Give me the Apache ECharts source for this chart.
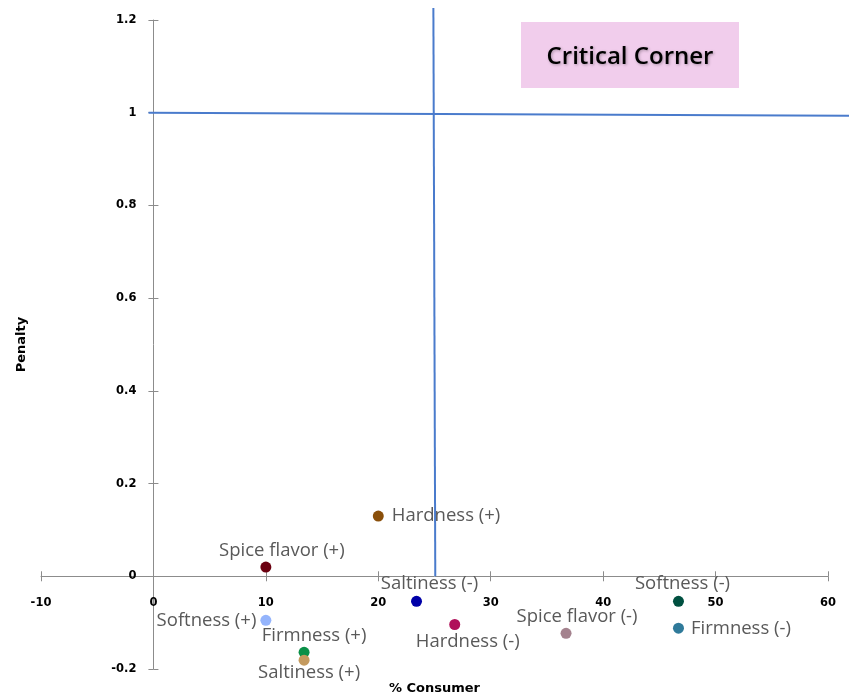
<!DOCTYPE html>
<html>
<head>
<meta charset="utf-8">
<script src="https://cdn.jsdelivr.net/npm/echarts@6/dist/echarts.min.js"></script>
<style>html,body{margin:0;padding:0;background:#fff}#c{width:849px;height:700px}</style>
</head>
<body>
<div id="c"></div>
<script>
var names = ['Spice flavor (+)', 'Hardness (+)', 'Saltiness (-)', 'Softness (+)', 'Firmness (+)', 'Saltiness (+)', 'Hardness (-)', 'Spice flavor (-)', 'Softness (-)', 'Firmness (-)'];
var consumerPct = [10, 20, 23.4, 10, 13.4, 13.4, 26.8, 36.7, 46.7, 46.7];
var penalty = [0.02, 0.13, -0.054, -0.095, -0.164, -0.181, -0.104, -0.123, -0.054, -0.112];
var pointColors = ['#6b0010', '#8a4f0a', '#0000a8', '#94b4fc', '#0a9048', '#c49a5e', '#b0105a', '#a4828e', '#005040', '#2f7a9a'];
var labelPlacement = ['top', 'right', 'top', 'left', 'top', 'bottom', 'bottom', 'top', 'top', 'right'];
var labelShift = [[16, 3], [4, 0], [13, 1], [0, 0], [10, 2], [5, -6], [13, -2], [11, 2], [4, 1], [3, 1]];
var xTicks = {min: -10, max: 60, interval: 10};
var yTicks = {min: -0.2, max: 1.2, interval: 0.2};
// reference lines: [x1, y1, x2, y2]
var refLines = [[24.9, 1.226, 25.07, 0], [-0.44, 1.0, 61.9, 0.9935]];

var GL = 41, GR = 21, GT = 20, GB = 31, W = 849, H = 700;
var gw = W - GL - GR, gh = H - GT - GB;
// shift axes to cross at zero (axis offset derived from ranges)
var yAxisShift = -gw * (0 - xTicks.min) / (xTicks.max - xTicks.min);
var xAxisShift = -gh * (0 - yTicks.min) / (yTicks.max - yTicks.min);

var chart = echarts.init(document.getElementById('c'), null, {renderer: 'canvas'});
var axisCol = '#8c8c8c';
var lblFont = {color: '#000', fontFamily: 'DejaVu Sans', fontWeight: 'bold', fontSize: 11.5};

var data = names.map(function (n, i) {
  return {
    name: n,
    value: [consumerPct[i], penalty[i]],
    itemStyle: {color: pointColors[i], opacity: 1},
    label: {show: true, position: labelPlacement[i], offset: labelShift[i], formatter: n}
  };
});

chart.setOption({
  animation: false,
  grid: {left: GL, right: GR, top: GT, bottom: GB, containLabel: false, outerBoundsMode: 'none'},
  xAxis: [{
    type: 'value', min: xTicks.min, max: xTicks.max, interval: xTicks.interval,
    offset: xAxisShift,
    name: '% Consumer', nameLocation: 'middle', nameGap: 106,
    nameTextStyle: {color: '#000', fontFamily: 'DejaVu Sans', fontWeight: 'bold', fontSize: 13},
    axisLine: {show: true, onZero: false, lineStyle: {color: axisCol, width: 1}},
    axisTick: {show: true, length: 5, lineStyle: {color: axisCol}},
    axisLabel: Object.assign({margin: 21}, lblFont),
    splitLine: {show: false}
  }, {
    type: 'value', min: xTicks.min, max: xTicks.max, interval: xTicks.interval, position: 'bottom',
    offset: xAxisShift,
    axisLine: {show: false, onZero: false},
    axisTick: {show: true, inside: true, length: 5, lineStyle: {color: axisCol}},
    axisLabel: {show: false}, splitLine: {show: false}
  }],
  yAxis: [{
    type: 'value', min: yTicks.min, max: yTicks.max, interval: yTicks.interval,
    offset: yAxisShift,
    name: 'Penalty', nameLocation: 'middle', nameGap: 125,
    nameTextStyle: {color: '#000', fontFamily: 'DejaVu Sans', fontWeight: 'bold', fontSize: 13},
    axisLine: {show: true, onZero: false, lineStyle: {color: axisCol, width: 1}},
    axisTick: {show: true, length: 5, lineStyle: {color: axisCol}},
    axisLabel: Object.assign({margin: 17, formatter: function (v) { return +v.toFixed(1) + ''; }}, lblFont),
    splitLine: {show: false}
  }, {
    type: 'value', min: yTicks.min, max: yTicks.max, interval: yTicks.interval, position: 'left',
    offset: yAxisShift,
    axisLine: {show: false, onZero: false},
    axisTick: {show: true, inside: true, length: 5, lineStyle: {color: axisCol}},
    axisLabel: {show: false}, splitLine: {show: false}
  }],
  graphic: [{
    type: 'group', left: 521, top: 22, z: 10,
    children: [{
      type: 'rect', shape: {x: 0, y: 0, width: 218, height: 66},
      style: {fill: '#f1cdec'}
    }, {
      type: 'text', x: 109, y: 35,
      style: {text: 'Critical Corner', fill: '#000', font: '600 24px "Open Sans"', align: 'center', verticalAlign: 'middle',
        textShadowColor: 'rgba(0,0,0,0.3)', textShadowBlur: 3, textShadowOffsetX: 1, textShadowOffsetY: 1}
    }]
  }],
  series: [{
    type: 'custom', clip: false, xAxisIndex: 0, yAxisIndex: 0, silent: true,
    data: refLines,
    renderItem: function (params, api) {
      var p1 = api.coord([api.value(0), api.value(1)]);
      var p2 = api.coord([api.value(2), api.value(3)]);
      return {
        type: 'line',
        shape: {x1: p1[0], y1: p1[1], x2: p2[0], y2: p2[1]},
        style: {stroke: '#4a7bcc', lineWidth: 2}
      };
    },
    encode: {x: [0, 2], y: [1, 3]}
  }, {
    type: 'scatter', xAxisIndex: 0, yAxisIndex: 0, symbolSize: 11, clip: false,
    label: {color: '#595959', fontFamily: 'Open Sans', fontSize: 18.5, distance: 4},
    data: data, z: 5
  }]
});
</script>
</body>
</html>
